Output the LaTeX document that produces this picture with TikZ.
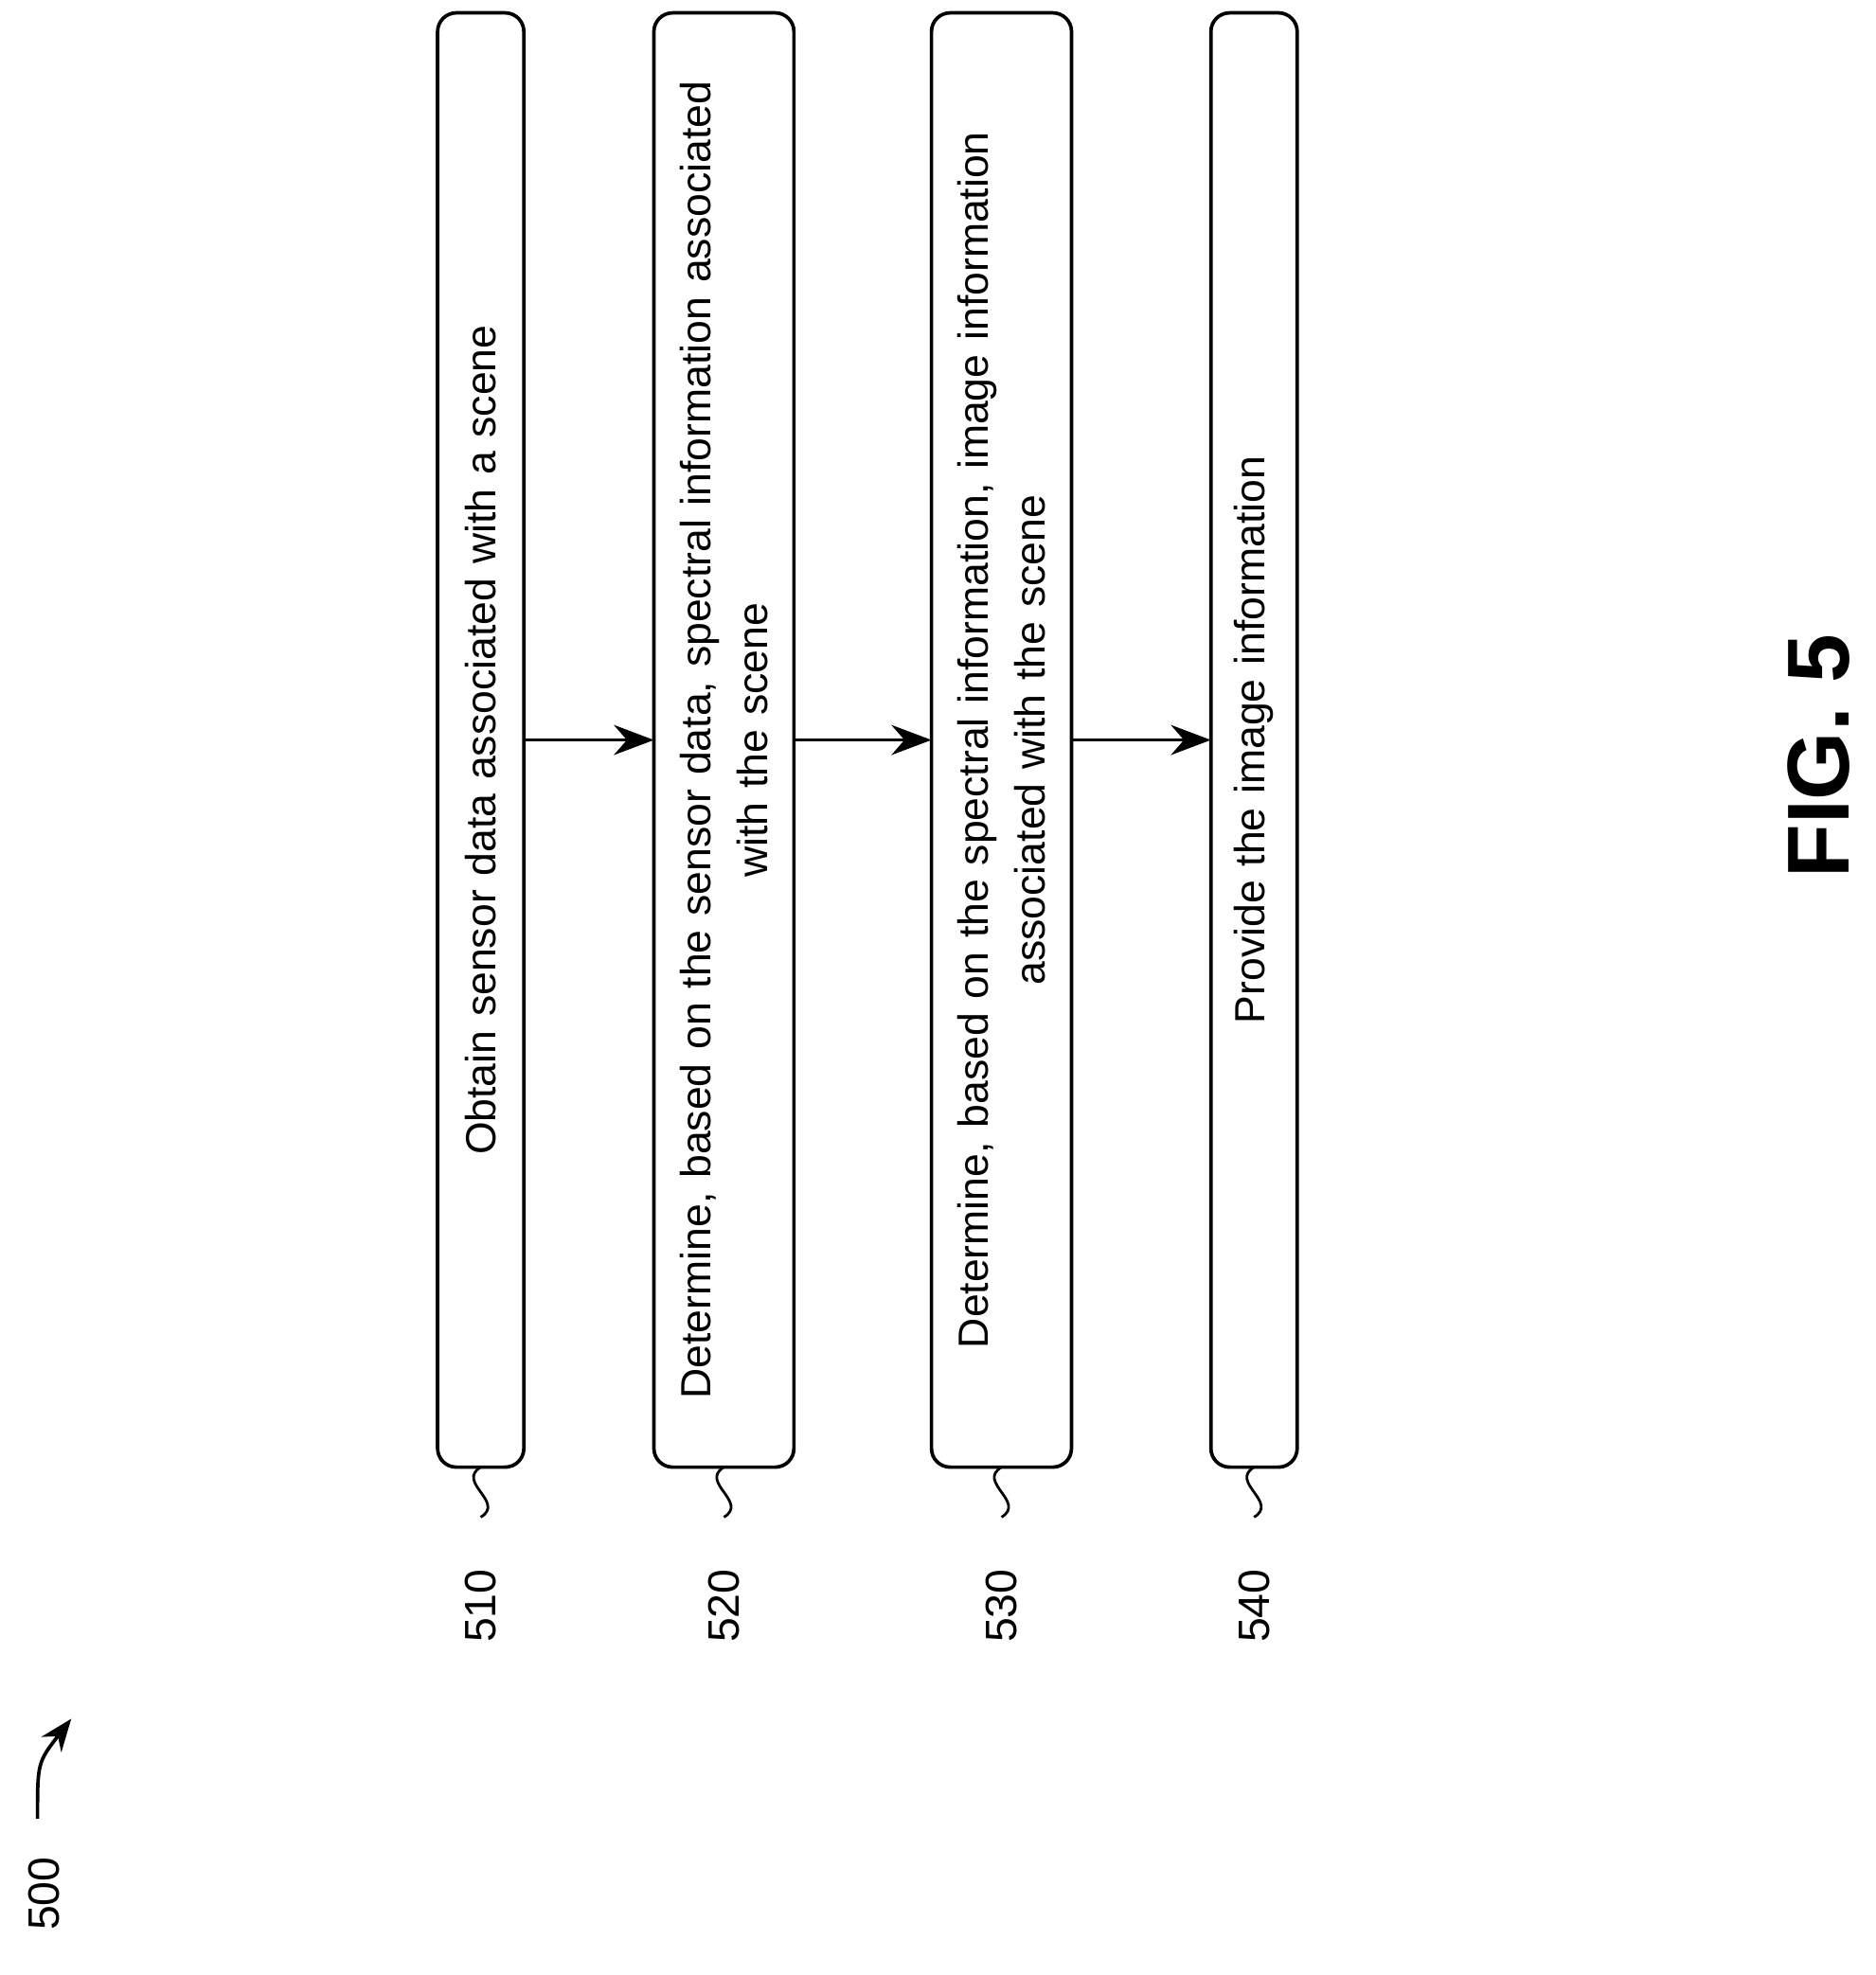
\documentclass[tikz,border=0pt]{standalone}
\usepackage{fontspec}
\setmainfont{Liberation Sans}
\usetikzlibrary{positioning,arrows.meta}
\begin{document}
\begin{tikzpicture}[every node/.style={outer sep=0pt},thick,
 stepbox/.style={draw,thick,rounded corners=0.15cm,rotate=90,minimum width=11.5cm,
 text width=11.4cm,align=center,font=\fontsize{9.6}{13}\selectfont},
 flow/.style={-{Stealth[length=3.2mm,width=2.4mm]},thick},
 reflabel/.style={rotate=90,font=\fontsize{10}{12}\selectfont},
 squig/.style={semithick}]
\useasboundingbox (0,0) rectangle (15,-15.8);

\node[stepbox,minimum height=0.69cm] (s510) at (3.845,-5.92) {Obtain sensor data associated with a scene};
\node[stepbox,minimum height=1.12cm] (s520) at (5.79,-5.92) {Determine, based on the sensor data, spectral information associated\\with the scene};
\node[stepbox,minimum height=1.12cm] (s530) at (8.01,-5.92) {Determine, based on the spectral information, image information\\associated with the scene};
\node[stepbox,minimum height=0.69cm] (s540) at (10.03,-5.92) {Provide the image information};

% connectors
\draw[flow] (s510.south) -- (s520.north);
\draw[flow] (s520.south) -- (s530.north);
\draw[flow] (s530.south) -- (s540.north);

% reference numerals
\foreach \n/\lab in {s510/510,s520/520,s530/530,s540/540}{
  \draw[squig] (\n.west) .. controls +(-0.2,-0.12) and +(0.2,0.12) .. ++(0,-0.4) coordinate (c\lab);
  \node[reflabel,anchor=east] (l\lab) at ([yshift=-0.3cm]c\lab) {\lab};
}

\node[reflabel] (l500) at (0.35,-15.15) {500};
\coordinate (a500) at (0.3,-14.55);
\draw[-{Stealth[length=2.6mm,width=2mm]},thick] (a500) .. controls (0.3,-14.1) .. (0.57,-13.75);

\node[rotate=90,font=\bfseries\fontsize{20}{24}\selectfont] (fig) at (14.55,-6.05) {FIG. 5};
\end{tikzpicture}
\end{document}
